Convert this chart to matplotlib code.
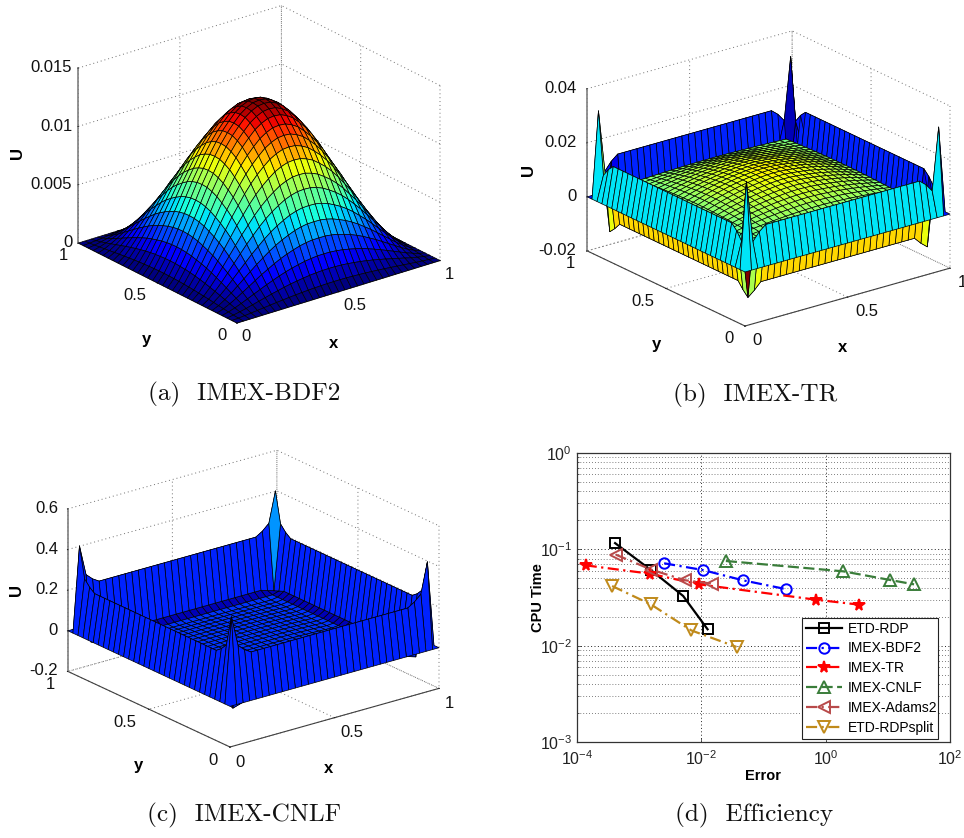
import numpy as np
import matplotlib
matplotlib.use("Agg")
import matplotlib.pyplot as plt
from matplotlib.text import Text
from mpl_toolkits.mplot3d import proj3d

W, H = 964, 838
plt.rcParams['font.family'] = ['Liberation Sans', 'DejaVu Sans']
plt.rcParams['mathtext.default'] = 'regular'
plt.rcParams['axes.unicode_minus'] = False
plt.rcParams['axes.formatter.use_mathtext'] = True

N = 33
# ---- values -----------------------------------------------------------
# (a) half profile through the middle of the dome (edge -> centre), scaled by peak
bdf2_profile = [0, .05, .12, .20, .29, .38, .47, .56, .64, .72, .79, .85, .90, .945, .975, .995, 1]
bdf2_peak = 0.013
# (b)
tr_dome = [0, 0, 0, 0, .12, .24, .36, .47, .57, .66, .74, .81, .87, .92, .96, .99, 1]
tr_base, tr_amp = 0.006, 0.007
tr_wall = [0, .014, -.008, .003]
tr_corner = [[0, 0, 0, 0], [0, .032, .009, .012], [0, .009, -.0125, -.0105], [0, .012, -.0105, .002]]
tr_clim = (-.015, .028)
tr_far_outer_t = .155
# (c)
cnlf_dome = [0] * 4 + [.2, .35, .5, .6, .7, .8, .85, .9, .93, .96, .98, .99, 1]
cnlf_base, cnlf_amp = -.055, 0.01
cnlf_wall = [0, .22, -.03, -.05]
cnlf_corner = [[0, 0, 0, 0], [0, .42, .27, .24], [0, .27, -.05, -.04], [0, .24, -.04, -.05]]
cnlf_ring_t = [.17, .17, .17, .05]
cnlf_interior_t = .18

# (d)
etd_x = [4.1e-4, 1.57e-3, 5.1e-3, 1.26e-2]
etd_y = [.116, .0605, .0328, .0148]
bdf_x = [2.52e-3, 1.06e-2, .0466, .2265]
bdf_y = [.0716, .0610, .0477, .0387]
trs_x = [1.38e-4, 1.48e-3, 9.2e-3, .697, 3.39]
trs_y = [.0682, .0559, .0433, .030, .0267]
cnl_x = [.0248, 1.92, 10.8, 26.4]
cnl_y = [.0757, .0591, .0481, .0433]
ada_x = [4.2e-4, 1.57e-3, 5.5e-3, .0151]
ada_y = [.0881, .0615, .0477, .044]
spl_x = [3.67e-4, 1.53e-3, 6.9e-3, .0368]
spl_y = [.0416, .0269, .0144, .0097]
# ----------------------------------------------------------------------


def mirror(half):
    half = np.asarray(half, float)
    return np.concatenate([half, half[-2::-1]])


def ring_surface(dome, base, amp, wall, corner):
    d = mirror(dome)
    Z = base + amp * np.outer(d, d)
    K = len(wall)
    for i in range(N):
        for j in range(N):
            di, dj = min(i, N - 1 - i), min(j, N - 1 - j)
            if di < K or dj < K:
                Z[i, j] = wall[min(di, dj)]
            if di < len(corner) and dj < len(corner):
                Z[i, j] = corner[di][dj]
    return Z


def nudge(ax, text, dx, dy):
    """mplot3d resets a label's position at each draw: shift it by pixels as it is set."""
    def setter(xy):
        p = ax.transData.transform(xy) + (dx, dy)
        Text.set_position(text, ax.transData.inverted().transform(p))
    text.set_position = setter


jet = plt.get_cmap('jet', 64)
fig = plt.figure(figsize=(W / 100, H / 100), dpi=100)


def surf_axes(zlim, zticks, zlabels, elev, azim, front, xvec, zpx, Z, C, pads, lab_off, xtick_off, lw=.5):
    ax = fig.add_axes([.1, .1, .4, .4], projection='3d', proj_type='ortho', computed_zorder=False)
    ax.view_init(elev=elev, azim=azim)
    ax.set_xlim(0, 1, view_margin=0)
    ax.set_ylim(0, 1, view_margin=0)
    ax.set_zlim(*zlim, view_margin=0)
    Hz = zpx / np.cos(np.radians(elev)) / (xvec[0] / np.cos(np.radians(38)))
    ax.set_box_aspect((1.0, 1.0, Hz))
    ax.patch.set_alpha(0)
    x = np.linspace(0, 1, N)
    X, Y = np.meshgrid(x, x, indexing='ij')
    ax.plot_surface(X, Y, Z, rstride=1, cstride=1, facecolors=jet(C), shade=False,
                    edgecolor='k', linewidth=lw, antialiased=True, zorder=5)
    ax.set_xticks([0, .5, 1], ['0', '0.5', '1'])
    ax.set_yticks([0, .5, 1], ['0', '0.5', '1'])
    ax.set_zticks(zticks, zlabels)
    for a, p in zip((ax.xaxis, ax.yaxis, ax.zaxis), pads):
        a.set_pane_color((1, 1, 1, 0))
        a.pane.set_edgecolor((1, 1, 1, 0))
        a.line.set_color('#404040')
        a.line.set_linewidth(.8)
        a._axinfo['grid'].update(color='#707070', linestyle=(0, (1, 3)), linewidth=.7)
        a._axinfo['tick'].update(inward_factor=.03, outward_factor=0, linewidth={True: .6, False: .4})
        a.set_tick_params(labelsize=12, pad=p, colors='#111111')
    ax.zaxis.line.set_color('#808080')
    ax.zaxis.line.set_linewidth(1.2)
    for t in ax.xaxis.get_major_ticks():
        t.label1.set_ha('left')
        t.label1.set_va('center')
        nudge(ax, t.label1, *xtick_off)
    for t in ax.yaxis.get_major_ticks():
        t.label1.set_ha('right')
        t.label1.set_va('center')
    for t in ax.zaxis.get_major_ticks():
        t.label1.set_ha('right')
        t.label1.set_va('center')
    ax.set_xlabel('x', fontsize=12, fontweight='bold')
    ax.set_ylabel('y', fontsize=12, fontweight='bold')
    ax.zaxis.set_rotate_label(False)
    ax.set_zlabel('U', fontsize=12, fontweight='bold', rotation=90)
    for a, off in zip((ax.xaxis, ax.yaxis, ax.zaxis), lab_off):
        nudge(ax, a.label, *off)
    # fit the box to the picture: scale, then shift
    for _ in range(3):
        fig.canvas.draw()
        M = ax.get_proj()

        def px(xx, yy, zz):
            a, b, _ = proj3d.proj_transform(xx, yy, zz, M)
            return ax.transData.transform((a, b))
        p0 = px(0, 0, zlim[0])
        p1 = px(1, 0, zlim[0])
        s = xvec[0] / (p1[0] - p0[0])
        pos = ax.get_position()
        wpx, hpx = pos.width * W * s, pos.height * H * s
        cx, cy = pos.x0 * W + pos.width * W / 2, pos.y0 * H + pos.height * H / 2
        dx = front[0] - (cx + (p0[0] - cx) * s)
        dy = (H - front[1]) - (cy + (p0[1] - cy) * s)
        cx += dx
        cy += dy
        ax.set_position([(cx - wpx / 2) / W, (cy - hpx / 2) / H, wpx / W, hpx / H])
    return ax


# (a)
prof = mirror(bdf2_profile)
Z_a = bdf2_peak * np.outer(prof, prof)
C_a = Z_a / bdf2_peak * .999
surf_axes((0, .015), [0, .005, .01, .015], ['0', '0.005', '0.01', '0.015'], 23.2, -128,
          (237, 323), (203, -61), 175, Z_a, C_a, (0, 0, -5.5),
          [(-31, -9), (23, -17), (0, 0)], (-4, 0))

# (b)
Z_b = ring_surface(tr_dome, tr_base, tr_amp, tr_wall, tr_corner)
C_b = np.clip((Z_b - tr_clim[0]) / (tr_clim[1] - tr_clim[0]), 0, .999)
C_b[N - 2, :] = tr_far_outer_t
C_b[:, N - 2] = tr_far_outer_t
surf_axes((-.02, .04), [-.02, 0, .02, .04], ['-0.02', '0', '0.02', '0.04'], 21.5, -127.6,
          (745, 326), (205, -58), 163, Z_b, C_b, (1, .5, -3.7),
          [(-32, -10), (25, -19), (3, -3)], (-2, 0))

# (c)
Z_c = ring_surface(cnlf_dome, cnlf_base, cnlf_amp, cnlf_wall, cnlf_corner)
C_c = np.full((N, N), cnlf_interior_t)
for i in range(N):
    for j in range(N):
        d = min(i, N - 1 - i, j, N - 1 - j)
        if d < len(cnlf_ring_t):
            C_c[i, j] = cnlf_ring_t[d]
C_c[1, 1] = .95
C_c[N - 3, N - 3] = .28
surf_axes((-.2, .6), [-.2, 0, .2, .4, .6], ['-0.2', '0', '0.2', '0.4', '0.6'], 21.2, -127.8,
          (230, 747), (209, -59), 163, Z_c, C_c, (1, 1, -4),
          [(-33, -11), (24, -19), (10, -3)], (-4, -1))

# (d)
ax = fig.add_axes([577 / W, 1 - 742 / H, 373 / W, 289 / H])
ax.set_xscale('log')
ax.set_yscale('log')
series = [
    ('ETD-RDP', etd_x, etd_y, 'k', '-', 's', 'none', 7.5),
    ('IMEX-BDF2', bdf_x, bdf_y, '#0000ff', (0, (5, 2, 1, 2)), 'o', 'none', 7.5),
    ('IMEX-TR', trs_x, trs_y, '#ff0000', (0, (5, 2, 1, 2)), '*', '#ff0000', 8.5),
    ('IMEX-CNLF', cnl_x, cnl_y, '#3a7d3a', (0, (5, 2)), '^', 'none', 8),
    ('IMEX-Adams2', ada_x, ada_y, '#b84a4a', (0, (5, 2, 1, 2)), '<', 'none', 8),
    ('ETD-RDPsplit', spl_x, spl_y, '#c08a1a', (0, (5, 2, 1, 2)), 'v', 'none', 8),
]
for name, xs, ys, col, ls, mk, mf, ms in series:
    ax.plot(xs, ys, color=col, linestyle=ls, linewidth=1.6, marker=mk, markersize=ms,
            markerfacecolor=mf, markeredgecolor=col, markeredgewidth=1.4, label=name)
ax.set_xlim(1e-4, 1e2)
ax.set_ylim(1e-3, 1e0)
ax.set_xticks([1e-4, 1e-2, 1e0, 1e2])
ax.set_yticks([1e-3, 1e-2, 1e-1, 1e0])
ax.xaxis.set_minor_locator(matplotlib.ticker.NullLocator())
ax.yaxis.set_minor_locator(matplotlib.ticker.LogLocator(subs=range(2, 10), numticks=10))
ax.yaxis.set_minor_formatter(matplotlib.ticker.NullFormatter())
ax.grid(True, which='major', color='#222222', linestyle=(0, (1, 2.5)), linewidth=.7)
ax.grid(True, which='minor', axis='y', color='#555555', linestyle=(0, (1, 2.5)), linewidth=.6)
ax.tick_params(which='both', direction='in', labelsize=11.5, length=3, width=.5, colors='#222222')
ax.tick_params(axis='x', which='major', pad=5)
ax.tick_params(which='minor', length=1.5)
for s in ax.spines.values():
    s.set_color('#333333')
    s.set_linewidth(.9)
ax.set_xlabel('Error', fontsize=10.5, fontweight='bold', labelpad=1)
ax.set_ylabel('CPU Time', fontsize=10.5, fontweight='bold', labelpad=-4)
leg = ax.legend(loc='lower left', bbox_to_anchor=((801.7 - 577) / 373, (742 - 739) / 289, 136.6 / 373, 111 / 289),
                mode='expand', borderaxespad=0, fontsize=10, fancybox=False, framealpha=1,
                edgecolor='#222222', labelspacing=.42, handlelength=2.6, handletextpad=.4, borderpad=.3)
leg.get_frame().set_linewidth(.8)

captions = [('(a)  IMEX-BDF2', 244, 394), ('(b)  IMEX-TR', 755, 395),
            ('(c)  IMEX-CNLF', 244, 815), ('(d)  Efficiency', 754, 815)]
for t, cx, cy in captions:
    fig.text(cx / W, 1 - cy / H, t, family='cmr10', fontsize=18.2, ha='center', va='center', color='#111111')

fig.savefig('out.png', dpi=100)
